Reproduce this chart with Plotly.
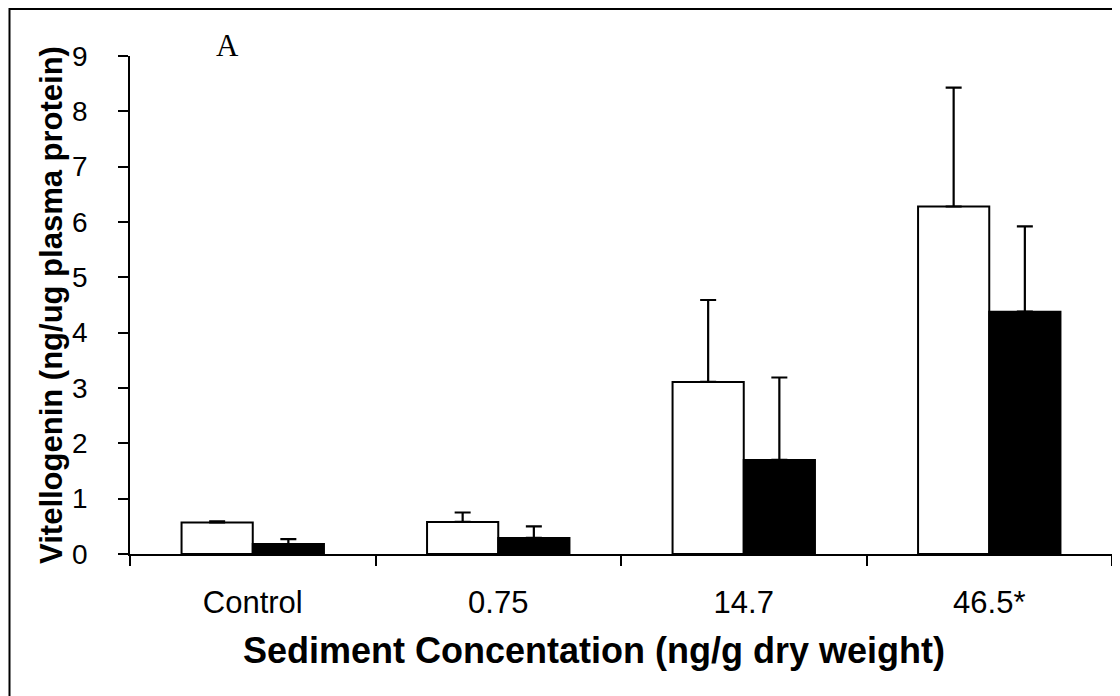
import plotly.graph_objects as go

categories = ["Control", "0.75", "14.7", "46.5*"]
white_vals = [0.57, 0.58, 3.11, 6.28]
white_err = [0.02, 0.17, 1.48, 2.15]
black_vals = [0.18, 0.29, 1.70, 4.38]
black_err = [0.09, 0.21, 1.49, 1.54]
y_ticks = [0, 1, 2, 3, 4, 5, 6, 7, 8, 9]

# page body has an 8px margin, so figure-local = screen - 8
W, H = 1120, 696
ML, MR, MT, MB = 122, 16, 48, 150
PW, PH = W - ML - MR, H - MT - MB

fig = go.Figure()
fig.add_trace(go.Bar(
    x=categories, y=white_vals, name="white",
    marker=dict(color="white", line=dict(color="black", width=2)),
    error_y=dict(type="data", array=white_err, arrayminus=[0] * 4, symmetric=False,
                 color="black", thickness=2.2, width=8),
))
fig.add_trace(go.Bar(
    x=categories, y=black_vals, name="black",
    marker=dict(color="black", line=dict(color="black", width=2)),
    error_y=dict(type="data", array=black_err, arrayminus=[0] * 4, symmetric=False,
                 color="black", thickness=2.2, width=8),
))

def px_x(x):
    return (x - ML) / PW

def px_y(y):
    return (H - MB - y) / PH

# outer border around the figure
fig.add_shape(type="rect", xref="paper", yref="paper",
              x0=px_x(1.5), x1=px_x(W - 1.5), y0=px_y(H - 1.5), y1=px_y(1),
              line=dict(color="black", width=2))

fig.add_annotation(text="A", xref="paper", yref="paper",
                   x=px_x(219), y=px_y(38), xanchor="center", yanchor="middle",
                   showarrow=False,
                   font=dict(family="Liberation Serif, Times New Roman, serif", size=31, color="black"))

# x-axis title (placed slightly left of plot centre as in the reference)
fig.add_annotation(text="<b>Sediment Concentation (ng/g dry weight)</b>",
                   xref="paper", yref="paper",
                   x=px_x(586), y=px_y(642), xanchor="center", yanchor="middle",
                   showarrow=False, font=dict(size=36, color="black"))

fig.update_layout(
    width=W, height=H,
    margin=dict(l=ML, r=MR, t=MT, b=MB),
    paper_bgcolor="white", plot_bgcolor="white",
    barmode="group", bargap=0.42, bargroupgap=0,
    showlegend=False,
    font=dict(family="Liberation Sans, Arial, sans-serif", color="black"),
)
fig.update_xaxes(
    type="category", range=[-0.5, 3.5],
    showline=True, linecolor="black", linewidth=1.5,
    ticks="outside", tickson="boundaries", ticklen=10, tickwidth=1.5, tickcolor="black",
    tickfont=dict(size=31, color="black"), ticklabelstandoff=20,
    showgrid=False,
)
fig.update_yaxes(
    range=[0, 9], tickvals=y_ticks,
    showline=True, linecolor="black", linewidth=1.5,
    ticks="outside", ticklen=10, tickwidth=1.5, tickcolor="black",
    tickfont=dict(size=28, color="black"), ticklabelstandoff=25,
    showgrid=False, zeroline=False,
    title=dict(text="<b>Vitellogenin (ng/ug plasma protein)</b>",
               font=dict(size=31, color="black"), standoff=0),
)

fig.write_html("out.html")
